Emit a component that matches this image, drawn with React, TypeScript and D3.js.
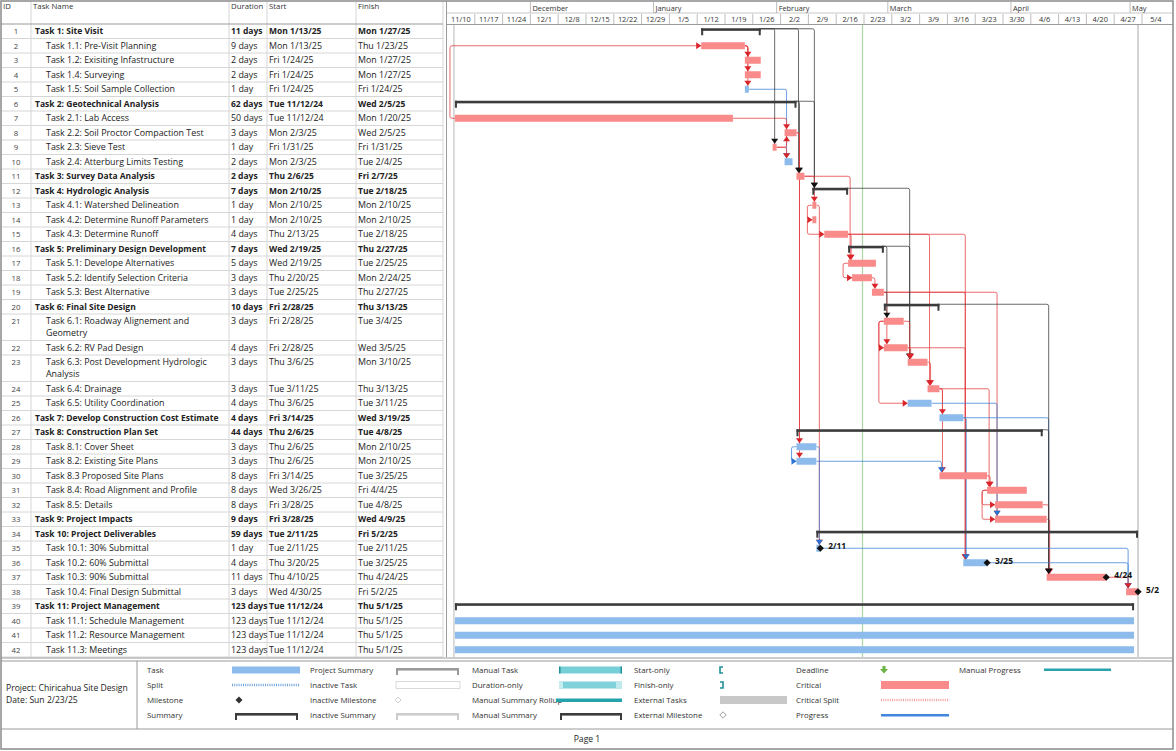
import * as d3 from 'd3';

// ---- task table data ----
const taskNames = [
  'Task 1: Site Visit',
  'Task 1.1: Pre-Visit Planning',
  'Task 1.2: Exisiting Infastructure',
  'Task 1.4: Surveying',
  'Task 1.5: Soil Sample Collection',
  'Task 2: Geotechnical Analysis',
  'Task 2.1: Lab Access',
  'Task 2.2: Soil Proctor Compaction Test',
  'Task 2.3: Sieve Test',
  'Task 2.4: Atterburg Limits Testing',
  'Task 3: Survey Data Analysis',
  'Task 4: Hydrologic Analysis',
  'Task 4.1: Watershed Delineation',
  'Task 4.2: Determine Runoff Parameters',
  'Task 4.3: Determine Runoff',
  'Task 5: Preliminary Design Development',
  'Task 5.1: Develope Alternatives',
  'Task 5.2: Identify Selection Criteria',
  'Task 5.3: Best Alternative',
  'Task 6: Final Site Design',
  'Task 6.1: Roadway Alignement and|Geometry',
  'Task 6.2: RV Pad Design',
  'Task 6.3: Post Development Hydrologic|Analysis',
  'Task 6.4: Drainage',
  'Task 6.5: Utility Coordination',
  'Task 7: Develop Construction Cost Estimate',
  'Task 8: Construction Plan Set',
  'Task 8.1: Cover Sheet',
  'Task 8.2: Existing Site Plans',
  'Task 8.3 Proposed Site Plans',
  'Task 8.4: Road Alignment and Profile',
  'Task 8.5: Details',
  'Task 9: Project Impacts',
  'Task 10: Project Deliverables',
  'Task 10.1: 30% Submittal',
  'Task 10.2: 60% Submittal',
  'Task 10.3: 90% Submittal',
  'Task 10.4: Final Design Submittal',
  'Task 11: Project Management',
  'Task 11.1: Schedule Management',
  'Task 11.2: Resource Management',
  'Task 11.3: Meetings',
];
const durations = ['11 days', '9 days', '2 days', '2 days', '1 day', '62 days', '50 days', '3 days', '1 day', '2 days',
  '2 days', '7 days', '1 day', '1 day', '4 days', '7 days', '5 days', '3 days', '3 days', '10 days',
  '3 days', '4 days', '3 days', '3 days', '4 days', '4 days', '44 days', '3 days', '3 days', '8 days',
  '8 days', '8 days', '9 days', '59 days', '1 day', '4 days', '11 days', '3 days', '123 days', '123 days',
  '123 days', '123 days'];
const starts = ['Mon 1/13/25', 'Mon 1/13/25', 'Fri 1/24/25', 'Fri 1/24/25', 'Fri 1/24/25', 'Tue 11/12/24', 'Tue 11/12/24',
  'Mon 2/3/25', 'Fri 1/31/25', 'Mon 2/3/25', 'Thu 2/6/25', 'Mon 2/10/25', 'Mon 2/10/25', 'Mon 2/10/25', 'Thu 2/13/25',
  'Wed 2/19/25', 'Wed 2/19/25', 'Thu 2/20/25', 'Tue 2/25/25', 'Fri 2/28/25', 'Fri 2/28/25', 'Fri 2/28/25', 'Thu 3/6/25',
  'Tue 3/11/25', 'Thu 3/6/25', 'Fri 3/14/25', 'Thu 2/6/25', 'Thu 2/6/25', 'Thu 2/6/25', 'Fri 3/14/25', 'Wed 3/26/25',
  'Fri 3/28/25', 'Fri 3/28/25', 'Tue 2/11/25', 'Tue 2/11/25', 'Thu 3/20/25', 'Thu 4/10/25', 'Wed 4/30/25',
  'Tue 11/12/24', 'Tue 11/12/24', 'Tue 11/12/24', 'Tue 11/12/24'];
const finishes = ['Mon 1/27/25', 'Thu 1/23/25', 'Mon 1/27/25', 'Mon 1/27/25', 'Fri 1/24/25', 'Wed 2/5/25', 'Mon 1/20/25',
  'Wed 2/5/25', 'Fri 1/31/25', 'Tue 2/4/25', 'Fri 2/7/25', 'Tue 2/18/25', 'Mon 2/10/25', 'Mon 2/10/25', 'Tue 2/18/25',
  'Thu 2/27/25', 'Tue 2/25/25', 'Mon 2/24/25', 'Thu 2/27/25', 'Thu 3/13/25', 'Tue 3/4/25', 'Wed 3/5/25', 'Mon 3/10/25',
  'Thu 3/13/25', 'Tue 3/11/25', 'Wed 3/19/25', 'Tue 4/8/25', 'Mon 2/10/25', 'Mon 2/10/25', 'Tue 3/25/25', 'Fri 4/4/25',
  'Tue 4/8/25', 'Wed 4/9/25', 'Fri 5/2/25', 'Tue 2/11/25', 'Tue 3/25/25', 'Thu 4/24/25', 'Fri 5/2/25',
  'Thu 5/1/25', 'Thu 5/1/25', 'Thu 5/1/25', 'Thu 5/1/25'];

const summaryIds = [1, 6, 12, 16, 20, 27, 34, 39];
const boldIds = [1, 6, 11, 12, 16, 20, 26, 27, 33, 34, 39];
const criticalIds = [2, 3, 4, 7, 8, 9, 11, 13, 14, 15, 17, 18, 19, 21, 22, 23, 24, 30, 31, 32, 33, 37, 38];
const milestoneIds = [35, 36, 37, 38];

// predecessor, successor, link type
const links: [number, number, string][] = [
  [7, 2, 'SS'], [2, 3, 'FS'], [2, 4, 'FS'], [2, 5, 'FS'], [5, 10, 'FS'], [7, 8, 'FS'], [9, 8, 'FS'], [9, 10, 'FS'],
  [1, 9, 'FS'], [1, 11, 'FS'], [6, 11, 'FS'], [1, 12, 'FS'], [6, 12, 'FS'], [8, 28, 'FS'], [8, 29, 'FS'],
  [11, 13, 'FS'], [13, 14, 'SS'], [14, 15, 'SS'], [11, 17, 'FS'], [15, 17, 'FS'], [15, 24, 'FS'], [15, 36, 'FS'],
  [17, 18, 'SS'], [18, 19, 'FS'], [19, 22, 'FS'], [19, 33, 'FS'], [19, 36, 'FS'], [16, 21, 'FS'], [12, 23, 'FS'],
  [16, 23, 'FS'], [21, 22, 'SS'], [21, 25, 'SS'], [21, 23, 'FS'], [22, 23, 'FS'], [23, 24, 'FS'], [24, 26, 'FS'],
  [24, 30, 'FS'], [29, 30, 'FS'], [28, 29, 'SS'], [30, 31, 'FS'], [24, 31, 'FS'], [22, 36, 'FS'], [31, 32, 'SS'],
  [31, 33, 'SS'], [25, 33, 'FS'], [26, 36, 'FS'], [26, 37, 'FS'], [32, 37, 'FS'], [33, 37, 'FS'], [20, 37, 'FS'],
  [27, 37, 'FS'], [13, 35, 'FS'], [28, 35, 'FS'], [35, 38, 'FS'], [36, 38, 'FS'], [37, 38, 'FS'],
];

// ---- timescale labels ----
const weekLabels = ['11/10', '11/17', '11/24', '12/1', '12/8', '12/15', '12/22', '12/29', '1/5', '1/12', '1/19', '1/26',
  '2/2', '2/9', '2/16', '2/23', '3/2', '3/9', '3/16', '3/23', '3/30', '4/6', '4/13', '4/20', '4/27', '5/4'];
const monthLabels = ['December', 'January', 'February', 'March', 'April', 'May'];
const statusDate = 'Sun 2/23/25';

// ---- legend ----
const legendLabels = [
  ['Task', 'Split', 'Milestone', 'Summary'],
  ['Project Summary', 'Inactive Task', 'Inactive Milestone', 'Inactive Summary'],
  ['Manual Task', 'Duration-only', 'Manual Summary Rollup', 'Manual Summary'],
  ['Start-only', 'Finish-only', 'External Tasks', 'External Milestone'],
  ['Deadline', 'Critical', 'Critical Split', 'Progress'],
  ['Manual Progress'],
];

const FONT = '"Open Sans", "Noto Sans", sans-serif';
const W = 1176;
const H = 751;
const ROW_H = 14.5;
const WRAP_H = 26.5;
const TABLE_TOP = 24;
const GANTT_LEFT = 447;
const RIGHT = 1173;
const BAR_H = 7;

const RED = '#f98b8b';
const BLUE = '#8cbbec';
const DARK = '#3c3c3c';

const parseDate = (s: string) => {
  const [m, d, y] = s.split(' ')[1].split('/').map(Number);
  return new Date(2000 + y, m - 1, d);
};

const x = d3.scaleTime()
  .domain([new Date(2024, 10, 10), new Date(2025, 4, 4)])
  .range([GANTT_LEFT, 1142]);

const rowTops: number[] = [];
let acc = TABLE_TOP;
taskNames.forEach((n) => {
  rowTops.push(acc);
  acc += n.includes('|') ? WRAP_H : ROW_H;
});
const tableBottom = acc;

const center = (id: number) => rowTops[id - 1] + 7.25;
const barStart = (id: number) => x(parseDate(starts[id - 1]));
const barEnd = (id: number) => x(d3.timeDay.offset(parseDate(finishes[id - 1]), 1));
const isSummary = (id: number) => summaryIds.includes(id);
const isCritical = (id: number) => criticalIds.includes(id);

const rounded = (pts: [number, number][], r = 2) => {
  const p = d3.path();
  p.moveTo(pts[0][0], pts[0][1]);
  for (let i = 1; i < pts.length - 1; i++) {
    p.arcTo(pts[i][0], pts[i][1], pts[i + 1][0], pts[i + 1][1], r);
  }
  p.lineTo(pts[pts.length - 1][0], pts[pts.length - 1][1]);
  return p.toString();
};

const arrowPath = (ax: number, ay: number, dir: string) => {
  if (dir === 'down') return `M${ax - 3.5},${ay - 5}L${ax + 3.5},${ay - 5}L${ax},${ay}Z`;
  if (dir === 'up') return `M${ax - 3.5},${ay + 5}L${ax + 3.5},${ay + 5}L${ax},${ay}Z`;
  return `M${ax - 5},${ay - 3.5}L${ax - 5},${ay + 3.5}L${ax},${ay}Z`;
};

const routeLink = (p: number, s: number, type: string) => {
  const yp = isSummary(p) ? center(p) - 2.5 : center(p);
  const ys = center(s);
  const colour = isSummary(p) ? '#3a3a3a' : isCritical(p) ? '#e3393c' : '#3a7fd6';
  const head = isSummary(p) ? '#111' : isCritical(p) ? '#d9252a' : '#2c72cf';
  if (type === 'SS') {
    const xa = barStart(p);
    const xb = barStart(s);
    const xl = Math.min(xa, xb) - 5;
    return { d: rounded([[xa, yp], [xl, yp], [xl, ys], [xb, ys]]), a: arrowPath(xb, ys, 'right'), colour, head };
  }
  const xe = barEnd(p);
  const xs = barStart(s);
  const down = ys > yp;
  if (xs >= xe - 0.5) {
    const xv = Math.max(xe + 3, xs + 2);
    const half = isSummary(s) ? 3 : BAR_H / 2;
    const yEnd = down ? ys - half : ys + half;
    return { d: rounded([[xe, yp], [xv, yp], [xv, yEnd]]), a: arrowPath(xv, yEnd, down ? 'down' : 'up'), colour, head };
  }
  const ym = yp + (down ? 7 : -7);
  return {
    d: rounded([[xe, yp], [xe + 5, yp], [xe + 5, ym], [xs - 5, ym], [xs - 5, ys], [xs, ys]]),
    a: arrowPath(xs, ys, 'right'),
    colour,
    head,
  };
};

const SummaryBar = ({ x0, x1, y, colour }: { x0: number; x1: number; y: number; colour: string }) => (
  <g fill={colour}>
    <rect x={x0} y={y - 3} width={x1 - x0} height={2.6} />
    <rect x={x0} y={y - 3} width={2} height={7} />
    <rect x={x1 - 2} y={y - 3} width={2} height={7} />
  </g>
);

const Diamond = ({ cx, cy, r, fill, stroke }: { cx: number; cy: number; r: number; fill: string; stroke?: string }) => (
  <path d={`M${cx},${cy - r}L${cx + r},${cy}L${cx},${cy + r}L${cx - r},${cy}Z`} fill={fill} stroke={stroke || 'none'} />
);

const Legend = () => {
  const labelX = [147, 310, 472, 634, 796, 959];
  const symX = [232, 396, 559, 720, 881, 1045];
  const rowY = [673, 688, 703, 718];
  const sym = (c: number, r: number) => {
    const sx = symX[c];
    const y = rowY[r] - 3;
    const w = 68;
    const key = legendLabels[c][r];
    switch (key) {
      case 'Task': return <rect x={sx} y={y - 3.5} width={w} height={7} fill={BLUE} />;
      case 'Split': return <line x1={sx} x2={sx + w} y1={y} y2={y} stroke="#6fa3dc" strokeWidth={2.5} strokeDasharray="1,1.2" />;
      case 'Milestone': return <Diamond cx={sx + 7} cy={y} r={3.5} fill="#333" />;
      case 'Summary': return <SummaryBar x0={sx + 3} x1={sx + 66} y={y + 1} colour={DARK} />;
      case 'Project Summary': return <SummaryBar x0={sx} x1={sx + 63} y={y + 1} colour="#9a9a9a" />;
      case 'Inactive Task': return <rect x={sx} y={y - 3.5} width={64} height={7} fill="#fff" stroke="#d2d2d2" strokeWidth={0.8} />;
      case 'Inactive Milestone': return <Diamond cx={sx + 2} cy={y} r={3} fill="#fff" stroke="#cfcfcf" />;
      case 'Inactive Summary': return <SummaryBar x0={sx} x1={sx + 63} y={y + 1} colour="#cdcdcd" />;
      case 'Manual Task': return (
        <g>
          <rect x={sx} y={y - 3.5} width={63} height={7} fill="#76cfd7" />
          <rect x={sx} y={y - 3.5} width={1.5} height={7} fill="#1f8f99" />
          <rect x={sx + 61.5} y={y - 3.5} width={1.5} height={7} fill="#1f8f99" />
        </g>
      );
      case 'Duration-only': return (
        <g>
          <rect x={sx} y={y - 3.5} width={63} height={7} fill="#7fd2d9" />
          <rect x={sx} y={y - 3.5} width={4} height={7} fill="#c6eef1" />
          <rect x={sx + 57} y={y - 3.5} width={6} height={7} fill="#bfe9ed" />
        </g>
      );
      case 'Manual Summary Rollup': return <rect x={sx - 3} y={y - 1.5} width={66} height={3.5} fill="#24a3ad" />;
      case 'Manual Summary': return <SummaryBar x0={sx + 1} x1={sx + 63} y={y + 1} colour={DARK} />;
      case 'Start-only': return <path d={`M${sx + 3},${y - 3}H${sx}V${y + 3}H${sx + 3}`} fill="none" stroke="#1f8f99" strokeWidth={1.6} />;
      case 'Finish-only': return <path d={`M${sx},${y - 3}H${sx + 3}V${y + 3}H${sx}`} fill="none" stroke="#1f8f99" strokeWidth={1.6} />;
      case 'External Tasks': return <rect x={sx} y={y - 4} width={67} height={8} fill="#c8c8c8" />;
      case 'External Milestone': return <Diamond cx={sx + 3} cy={y} r={3.2} fill="#fff" stroke="#a0a0a0" />;
      case 'Deadline': return <path d={`M${sx + 1.5},${y - 4}h3v3h2.5l-4,4.5l-4,-4.5h2.5z`} fill="#6ab344" />;
      case 'Critical': return <rect x={sx} y={y - 4} width={68} height={8} fill={RED} />;
      case 'Critical Split': return <line x1={sx} x2={sx + w} y1={y} y2={y} stroke="#f0a3a3" strokeWidth={2.5} strokeDasharray="1,1.2" />;
      case 'Progress': return <rect x={sx} y={y - 1} width={68} height={2.5} fill="#3f86dc" />;
      case 'Manual Progress': return <rect x={sx - 1} y={y - 1.5} width={67} height={2.5} fill="#2aa3ad" />;
      default: return null;
    }
  };
  return (
    <g>
      {legendLabels.map((col, c) => col.map((lab, r) => (
        <g key={`${c}-${r}`}>
          <text x={labelX[c]} y={rowY[r]} fontSize={7.9} fill="#333">{lab}</text>
          {sym(c, r)}
        </g>
      )))}
    </g>
  );
};

export default function App() {
  const weekDates = d3.timeWeek.range(new Date(2024, 10, 10), new Date(2025, 4, 11));
  const monthDates = d3.timeMonth.range(new Date(2024, 11, 1), new Date(2025, 5, 1));
  const projectStart = d3.min(starts.map(parseDate)) as Date;
  const projectEnd = d3.timeDay.offset(d3.max(finishes.map(parseDate)) as Date, 1);
  const colX = [1, 31, 229, 267, 356, 443];
  const routed = links.map(([p, s, t]) => routeLink(p, s, t));

  return (
    <svg width={W} height={H} style={{ position: 'absolute', left: 0, top: 0, background: '#fff' }}
      fontFamily={FONT}>
      <rect x={0} y={0} width={W} height={H} fill="#fff" />

      {/* table grid */}
      <g stroke="#d6d6d6" strokeWidth={1}>
        {rowTops.map((t, i) => (
          <line key={i} x1={1} x2={443} y1={t + (taskNames[i].includes('|') ? WRAP_H : ROW_H)}
            y2={t + (taskNames[i].includes('|') ? WRAP_H : ROW_H)} />
        ))}
        {colX.slice(1).map((cx) => <line key={cx} x1={cx} x2={cx} y1={1} y2={tableBottom} />)}
      </g>
      <line x1={1} x2={443} y1={TABLE_TOP} y2={TABLE_TOP} stroke="#9a9a9a" />

      {/* table header */}
      <g fontSize={7.8} fill="#333">
        <text x={3} y={8.5}>ID</text>
        <text x={33} y={8.5}>Task Name</text>
        <text x={231} y={8.5}>Duration</text>
        <text x={269} y={8.5}>Start</text>
        <text x={358} y={8.5}>Finish</text>
      </g>

      {/* table rows */}
      <g fill="#222">
        {taskNames.map((n, i) => {
          const id = i + 1;
          const bold = boldIds.includes(id);
          const y = rowTops[i] + 10.3;
          const lines = n.split('|');
          return (
            <g key={id} fontWeight={bold ? 700 : 400} fontSize={bold ? 8.5 : 8.9}>
              <text x={16} y={y} textAnchor="middle" fontWeight={400} fontSize={7.8} fill="#444">{id}</text>
              {lines.map((ln, k) => (
                <text key={k} x={bold ? 35 : 46} y={y + k * 12}>{ln}</text>
              ))}
              <text x={231} y={y}>{durations[i]}</text>
              <text x={269} y={y}>{starts[i]}</text>
              <text x={358} y={y}>{finishes[i]}</text>
            </g>
          );
        })}
      </g>

      {/* gantt timescale */}
      <line x1={GANTT_LEFT - 0.5} x2={GANTT_LEFT - 0.5} y1={1} y2={tableBottom} stroke="#9a9a9a" />
      <line x1={GANTT_LEFT} x2={RIGHT} y1={13} y2={13} stroke="#c8c8c8" />
      <line x1={GANTT_LEFT} x2={RIGHT} y1={TABLE_TOP + 0.5} y2={TABLE_TOP + 0.5} stroke="#9a9a9a" />
      <g fontSize={7.4} fill="#333">
        {monthDates.map((d, i) => (
          <g key={i}>
            <line x1={x(d)} x2={x(d)} y1={2} y2={13} stroke="#bdbdbd" />
            <text x={x(d) + 2} y={10.5}>{monthLabels[i]}</text>
          </g>
        ))}
        {weekDates.map((d, i) => {
          const x0 = x(d);
          const x1 = Math.min(x(d3.timeDay.offset(d, 7)), RIGHT);
          return (
            <g key={i}>
              {i > 0 && <line x1={x0} x2={x0} y1={14} y2={24} stroke="#bdbdbd" />}
              <text x={(x0 + x1) / 2} y={21.5} textAnchor="middle">{weekLabels[i]}</text>
            </g>
          );
        })}
      </g>

      {/* project boundary and status lines */}
      <line x1={x(projectStart) - 1} x2={x(projectStart) - 1} y1={TABLE_TOP + 1} y2={tableBottom} stroke="#b8b8b8" />
      <line x1={x(projectEnd)} x2={x(projectEnd)} y1={TABLE_TOP + 1} y2={tableBottom} stroke="#a8a8a8" />
      <line x1={x(parseDate(statusDate)) - 1.5} x2={x(parseDate(statusDate)) - 1.5} y1={TABLE_TOP + 1} y2={tableBottom}
        stroke="#a9d8a2" strokeWidth={1.2} />

      {/* dependency lines */}
      <g fill="none" strokeWidth={1}>
        {routed.map((r, i) => <path key={i} d={r.d} stroke={r.colour} strokeOpacity={0.75} />)}
      </g>

      {/* bars */}
      <g>
        {taskNames.map((_, i) => {
          const id = i + 1;
          const x0 = barStart(id);
          const x1 = barEnd(id);
          const c = center(id);
          if (isSummary(id)) return <SummaryBar key={id} x0={x0} x1={x1} y={c} colour={DARK} />;
          return (
            <rect key={id} x={x0} y={c - BAR_H / 2} width={x1 - x0} height={BAR_H}
              fill={isCritical(id) ? RED : BLUE} />
          );
        })}
      </g>

      {/* arrowheads */}
      <g>
        {routed.map((r, i) => <path key={i} d={r.a} fill={r.head} />)}
      </g>

      {/* milestones */}
      <g fontSize={8.4} fontWeight={700} fill="#111">
        {milestoneIds.map((id) => {
          const mx = barEnd(id);
          const c = center(id);
          const lab = finishes[id - 1].split(' ')[1].split('/').slice(0, 2).join('/');
          return (
            <g key={id}>
              <Diamond cx={mx} cy={c} r={3.6} fill="#111" />
              <text x={mx + 8} y={c + 1}>{lab}</text>
            </g>
          );
        })}
      </g>

      {/* legend block */}
      <line x1={1} x2={RIGHT} y1={tableBottom + 1} y2={tableBottom + 1} stroke="#9a9a9a" />
      <line x1={1} x2={RIGHT} y1={661} y2={661} stroke="#9a9a9a" />
      <line x1={137} x2={137} y1={661} y2={729} stroke="#9a9a9a" />
      <line x1={1} x2={RIGHT} y1={729} y2={729} stroke="#9a9a9a" />
      <g fontSize={8.6} fill="#222">
        <text x={6} y={691}>Project: Chiricahua Site Design</text>
        <text x={6} y={703}>Date: {statusDate}</text>
      </g>
      <Legend />
      <text x={587} y={742} textAnchor="middle" fontSize={8.6} fill="#222">Page 1</text>

      {/* outer frame */}
      <rect x={1} y={1} width={RIGHT - 1} height={748} fill="none" stroke="#8a8a8a" strokeWidth={1.5} />
    </svg>
  );
}
